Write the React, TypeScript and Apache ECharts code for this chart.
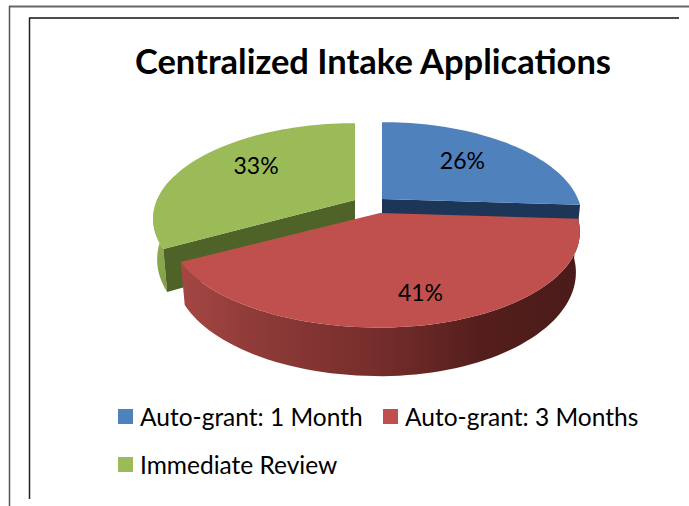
import React, { useEffect, useRef } from "react";
import * as echarts from "echarts";

const categories = ["Auto-grant: 1 Month", "Auto-grant: 3 Months", "Immediate Review"];
const percentValues = [26, 41, 33];
const sliceColors = ["#4f81bd", "#c0504d", "#9bbb59"];
const titleText = "Centralized Intake Applications";

// view of the tilted pie
const RX = 196;
const RY = 92;
const PERSPECTIVE = 0.197;
const DEPTH = 39;
const leftStretch = [1, 1.05, 1.01];
const sliceCentres = [[382, 199], [380, 213], [355, 200]];
const labelRadii = [0.65, 0.75, 0.63];
const labelNudges = [[-5, -1], [3, 0], [2, -7]];
const legendSpots = [[118, 404], [383, 404], [118, 452]];

function project(i: number, angleDeg: number, f: number) {
  const c = sliceCentres[i];
  const a = (angleDeg * Math.PI) / 180;
  const u = Math.sin(a) * f;
  const v = Math.cos(a) * f;
  const w = 1 + PERSPECTIVE * v;
  return {
    x: c[0] + (RX * u * (u < 0 ? leftStretch[i] : 1)) / w,
    y: c[1] - (RY * v) / w,
    w,
  };
}

function lower(c: number[], p: { x: number; y: number; w: number }) {
  return [c[0] + (p.x - c[0]) * 0.98, p.y + DEPTH / p.w];
}

function arc(i: number, from: number, to: number) {
  const out: { x: number; y: number; w: number }[] = [];
  const steps = Math.max(2, Math.ceil(Math.abs(to - from) / 2));
  for (let k = 0; k <= steps; k++) out.push(project(i, from + ((to - from) * k) / steps, 1));
  return out;
}

function sliceSeries(index: number) {
  const total = percentValues.reduce((s, v) => s + v, 0);
  const before = percentValues.slice(0, index).reduce((s, v) => s + v, 0);
  const start = (before / total) * 360;
  const end = ((before + percentValues[index]) / total) * 360;
  const c = sliceCentres[index];
  const color = sliceColors[index];

  const renderItem = () => {
    const children: any[] = [];
    const rim = arc(index, start, end);
    const centre = project(index, 0, 0);
    const poly = (points: number[][], fill: any) => ({
      type: "polygon",
      shape: { points },
      style: { fill, stroke: "none" },
    });
    if (index === 0) {
      const tip = rim[rim.length - 1];
      children.push(poly([[tip.x, tip.y], [centre.x, centre.y], lower(c, centre), lower(c, tip)], "#1d3557"));
    }
    if (index === 2) {
      const side = arc(index, start, start + 45);
      children.push(
        poly(
          [...side.map((p) => [p.x, p.y]), ...side.slice().reverse().map((p) => lower(c, p))],
          new echarts.graphic.LinearGradient(0, 0, 0, 1, [
            { offset: 0, color: "#9bb857" },
            { offset: 1, color: "#82a047" },
          ])
        )
      );
      const tip = rim[0];
      children.push(poly([[tip.x, tip.y], [centre.x, centre.y], lower(c, centre), lower(c, tip)], "#4f6228"));
    }
    if (index === 1) {
      children.push(
        poly(
          [...rim.map((p) => [p.x, p.y]), ...rim.slice().reverse().map((p) => lower(c, p))],
          new echarts.graphic.LinearGradient(0, 0, 1, 0, [
            { offset: 0, color: "#a54744" },
            { offset: 0.18, color: "#8f3b39" },
            { offset: 0.5, color: "#752d2b" },
            { offset: 0.75, color: "#541e1c" },
            { offset: 1, color: "#4a1b1a" },
          ])
        )
      );
    }
    children.push(poly([[centre.x, centre.y], ...rim.map((p) => [p.x, p.y])], color));
    const lp = project(index, (start + end) / 2, labelRadii[index]);
    children.push({
      type: "text",
      style: {
        x: lp.x + labelNudges[index][0],
        y: lp.y + labelNudges[index][1],
        text: `${percentValues[index]}%`,
        fill: "#000000",
        font: "23px Lato, sans-serif",
        align: "center",
        verticalAlign: "middle",
      },
      z2: 10,
    });
    return { type: "group", children };
  };

  return {
    type: "custom",
    name: categories[index],
    coordinateSystem: "none",
    z: index === 1 ? 3 : 2,
    itemStyle: { color },
    data: [percentValues[index]],
    renderItem,
    silent: true,
  };
}

const hairlines = [
  [9, 6.5, 689, 6.5, "#666666", 2],
  [9.5, 6, 9.5, 506, "#555555", 1.5],
  [29, 18, 679, 18, "#111111", 1.5],
  [29.5, 18, 29.5, 499, "#222222", 1.5],
];

export default function App() {
  const ref = useRef<HTMLDivElement>(null);
  useEffect(() => {
    if (!ref.current) return;
    const chart = echarts.init(ref.current, undefined, { renderer: "svg" });
    chart.setOption({
      animation: false,
      backgroundColor: "#ffffff",
      title: {
        text: titleText,
        left: 368,
        textAlign: "center",
        top: 38,
        textStyle: { fontFamily: "Lato, sans-serif", fontSize: 34.5, fontWeight: "bold", color: "#000000" },
      },
      legend: categories.map((name, i) => ({
        data: [name],
        left: legendSpots[i][0],
        top: legendSpots[i][1],
        icon: "rect",
        itemWidth: 15,
        itemHeight: 15,
        padding: 0,
        selectedMode: false,
        textStyle: { fontFamily: "Lato, sans-serif", fontSize: 24.5, color: "#000000", padding: [0, 0, 0, 2] },
      })),
      graphic: hairlines.map((l) => ({
        type: "line",
        shape: { x1: l[0], y1: l[1], x2: l[2], y2: l[3] },
        style: { stroke: l[4], lineWidth: l[5] },
        silent: true,
      })),
      series: [0, 1, 2].map(sliceSeries),
    });
    return () => chart.dispose();
  }, []);
  return <div ref={ref} style={{ position: "fixed", left: 0, top: 0, width: 689, height: 506 }} />;
}
